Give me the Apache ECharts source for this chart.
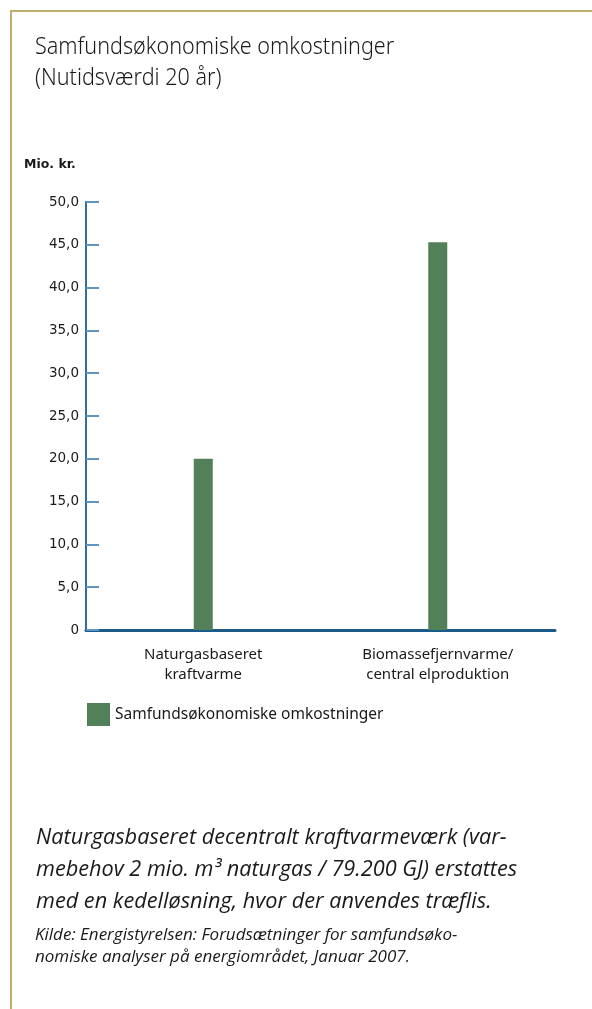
<!DOCTYPE html>
<html>
<head>
<meta charset="utf-8">
<script src="https://cdn.jsdelivr.net/npm/echarts@6/dist/echarts.min.js"></script>
<style>
html,body{margin:0;padding:0;background:#fff;}
#c{width:592px;height:1009px;}
</style>
</head>
<body>
<div id="c"></div>
<script>
const titleLines = ['Samfundsøkonomiske omkostninger', '(Nutidsværdi 20 år)'];
const unitLabel = 'Mio. kr.';
const categories = ['Naturgasbaseret\nkraftvarme', 'Biomassefjernvarme/\ncentral elproduktion'];
const seriesName = 'Samfundsøkonomiske omkostninger';
const values = [20.0, 45.3];
const yMin = 0, yMax = 50, yStep = 5;
const noteLines = [
  'Naturgasbaseret decentralt kraftvarmeværk (var-',
  'mebehov 2 mio. m³ naturgas / 79.200 GJ) erstattes',
  'med en kedelløsning, hvor der anvendes træflis.'
];
const sourceLines = [
  'Kilde: Energistyrelsen: Forudsætninger for samfundsøko-',
  'nomiske analyser på energiområdet, Januar 2007.'
];

// condensed look for the title: scale the glyphs horizontally
const titleFont = '300 24px "Noto Sans"';
const mctx = document.createElement('canvas').getContext('2d');
mctx.font = titleFont;
const titleScale = 265 / mctx.measureText('Samfundsøkonomiske omk').width;

const chart = echarts.init(document.getElementById('c'), null, {renderer: 'canvas'});
const frameColor = '#bfae6e';
const ink = '#1a1a1a';
const graphics = [
  {type: 'line', shape: {x1: 11, y1: 11, x2: 592, y2: 11}, style: {stroke: frameColor, lineWidth: 2}, silent: true},
  {type: 'line', shape: {x1: 11, y1: 10, x2: 11, y2: 1009}, style: {stroke: frameColor, lineWidth: 2}, silent: true},
  {type: 'text', x: 24, y: 165, style: {text: unitLabel, font: 'bold 12.5px "DejaVu Sans"', fill: ink, verticalAlign: 'middle'}}
];
const titleCenters = [47, 78];
titleLines.forEach((t, i) => graphics.push({
  type: 'text', x: 35, y: titleCenters[i], scaleX: titleScale,
  style: {text: t, font: titleFont, fill: ink, verticalAlign: 'middle', align: 'left'}
}));
const noteCenters = [838, 870, 902];
noteLines.forEach((t, i) => graphics.push({
  type: 'text', x: 36, y: noteCenters[i],
  style: {text: t, font: 'italic 21.7px "Open Sans"', fill: ink, verticalAlign: 'middle', align: 'left'}
}));
const srcCenters = [935, 957];
sourceLines.forEach((t, i) => graphics.push({
  type: 'text', x: 35, y: srcCenters[i],
  style: {text: t, font: 'italic 17px "Open Sans"', fill: ink, verticalAlign: 'middle', align: 'left'}
}));

chart.setOption({
  animation: false,
  backgroundColor: '#fff',
  legend: {
    left: 82, top: 698,
    icon: 'rect', itemWidth: 23, itemHeight: 23,
    textStyle: {fontFamily: '"Noto Sans"', fontSize: 15.5, color: ink},
    data: [seriesName]
  },
  grid: {left: 86, right: 37, top: 202, bottom: 379, containLabel: false},
  xAxis: {
    type: 'category', data: categories,
    axisLine: {show: true, lineStyle: {color: '#1b5b8a', width: 3}},
    axisTick: {show: false},
    axisLabel: {fontFamily: '"Noto Sans"', fontSize: 15, lineHeight: 20, color: ink, margin: 15}
  },
  yAxis: {
    type: 'value', min: yMin, max: yMax, interval: yStep,
    splitLine: {show: false},
    axisLine: {show: true, lineStyle: {color: '#2e6f9c', width: 2}},
    axisTick: {show: true, inside: true, length: 13, lineStyle: {color: '#5b95c0', width: 2}},
    axisLabel: {
      fontFamily: '"DejaVu Sans"', fontSize: 13.5, color: ink, margin: 7,
      formatter: v => v === 0 ? '0' : v.toFixed(1).replace('.', ',')
    }
  },
  series: [{
    name: seriesName, type: 'bar', data: values, barWidth: 19,
    itemStyle: {color: '#528058'}
  }],
  graphic: graphics
});
</script>
</body>
</html>
